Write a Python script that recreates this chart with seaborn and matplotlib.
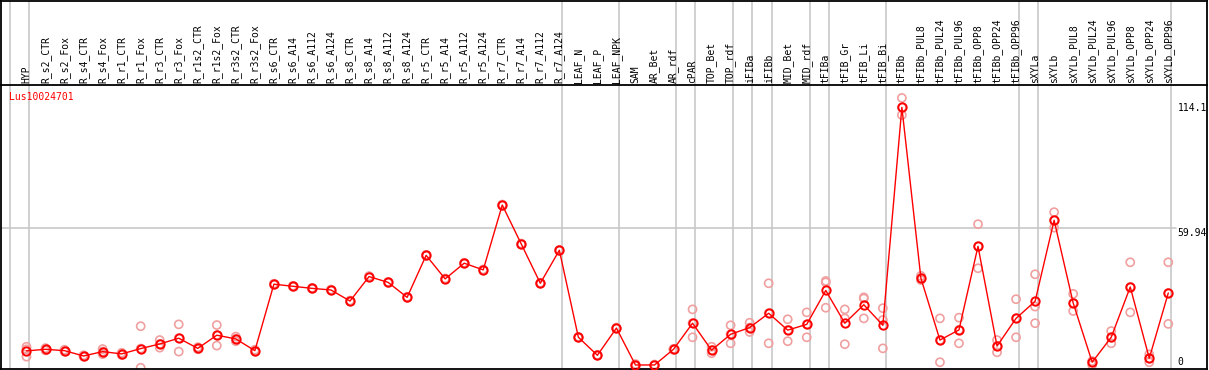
import numpy as np
import pandas as pd
import matplotlib
matplotlib.use("Agg")
import matplotlib.pyplot as plt
import matplotlib.transforms as mtransforms
import seaborn as sns

GENE = "Lus10024701"

SAMPLES = [
    "HYP",
    "R_s2_CTR", "R_s2_Fox", "R_s4_CTR", "R_s4_Fox", "R_r1_CTR", "R_r1_Fox",
    "R_r3_CTR", "R_r3_Fox", "R_r1s2_CTR", "R_r1s2_Fox", "R_r3s2_CTR", "R_r3s2_Fox",
    "R_s6_CTR", "R_s6_A14", "R_s6_A112", "R_s6_A124",
    "R_s8_CTR", "R_s8_A14", "R_s8_A112", "R_s8_A124",
    "R_r5_CTR", "R_r5_A14", "R_r5_A112", "R_r5_A124",
    "R_r7_CTR", "R_r7_A14", "R_r7_A112", "R_r7_A124",
    "LEAF_N", "LEAF_P", "LEAF_NPK",
    "SAM", "AR_Bet", "AR_rdf",
    "cPAR",
    "TOP_Bet", "TOP_rdf",
    "iFIBa",
    "iFIBb",
    "MID_Bet", "MID_rdf",
    "tFIBa",
    "tFIB_Gr", "tFIB_Li", "tFIB_Bi",
    "tFIBb", "tFIBb_PUL8", "tFIBb_PUL24", "tFIBb_PUL96",
    "tFIBb_OPP8", "tFIBb_OPP24", "tFIBb_OPP96",
    "sXYLa",
    "sXYLb", "sXYLb_PUL8", "sXYLb_PUL24", "sXYLb_PUL96",
    "sXYLb_OPP8", "sXYLb_OPP24", "sXYLb_OPP96",
]

# number of samples in each block between the grey separators
GROUP_SIZES = [1, 28, 3, 3, 1, 2, 1, 1, 2, 1, 3, 7, 1, 7]

MEANS = [
    6.8,
    7.5, 6.9, 4.6, 6.5, 5.5, 7.8, 9.8, 12.3, 7.9, 13.6, 12.0, 6.9,
    35.7, 34.8, 33.9, 33.2, 28.4, 39.0, 36.5, 30.0,
    48.2, 38.0, 44.8, 41.9, 70.0, 53.1, 36.1, 50.4,
    12.7, 4.9, 16.7,
    0.7, 0.7, 7.5,
    18.8,
    7.1, 14.0,
    16.9,
    23.1,
    15.8, 18.3,
    33.0,
    18.8, 26.8, 17.9,
    112.3, 38.3, 11.5, 15.9, 52.1, 8.9, 20.9,
    28.3,
    63.4, 27.6, 1.9, 12.7, 34.5, 3.6, 31.9,
]

REPLICATES = [
    [4.3, 7.5, 8.6],
    [7.0, 7.5, 8.0], [6.5, 6.9, 7.3], [4.3, 4.6, 4.9], [5.4, 6.5, 7.6],
    [5.0, 5.5, 6.0], [-0.5, 7.8, 17.5], [8.2, 9.8, 11.5], [6.5, 12.3, 18.3],
    [7.5, 8.0, 8.4], [9.1, 13.6, 18.0], [11.0, 12.0, 13.0], [6.5, 6.9, 7.3],
    [35.5, 35.7, 35.9], [34.6, 34.8, 35.0], [33.7, 33.9, 34.1], [33.0, 33.2, 33.4],
    [28.2, 28.4, 28.6], [38.8, 39.0, 39.2], [36.3, 36.5, 36.7], [29.8, 30.0, 30.2],
    [48.0, 48.2, 48.4], [37.8, 38.0, 38.2], [44.6, 44.8, 45.0], [41.7, 41.9, 42.1],
    [69.8, 70.0, 70.2], [52.9, 53.1, 53.3], [35.9, 36.1, 36.3], [50.2, 50.4, 50.6],
    [12.5, 12.7, 12.9], [4.7, 4.9, 5.1], [16.5, 16.7, 16.9],
    [0.3, 0.7, 1.1], [0.5, 0.7, 0.9], [7.3, 7.5, 7.7],
    [12.7, 18.8, 24.8],
    [5.8, 7.1, 8.6], [10.1, 14.0, 17.9],
    [15.0, 16.9, 19.0],
    [10.1, 23.1, 36.1],
    [11.0, 15.8, 20.5], [12.7, 18.3, 23.5],
    [25.5, 36.5, 37.1],
    [9.7, 20.9, 24.8], [20.9, 29.5, 30.0], [7.9, 20.2, 25.3],
    [109.0, 112.3, 116.4], [37.5, 38.3, 39.3], [1.9, 11.5, 20.9], [10.1, 15.9, 21.2],
    [42.6, 52.1, 61.7], [6.2, 8.9, 11.5], [12.7, 20.9, 29.2],
    [18.8, 26.0, 40.0],
    [60.2, 63.4, 66.9], [24.1, 27.6, 31.5], [0.7, 1.9, 2.4], [10.1, 12.7, 15.4],
    [23.5, 34.5, 45.2], [1.9, 3.6, 5.3], [18.5, 31.9, 45.2],
]

Y_TICKS = [0, 59.94, 114.1]
Y_TICK_LABELS = ["0", "59.94", "114.1"]

RED = "#ff0000"
PINK = "#f0a0a0"
GREY = "#c8c8c8"

sns.set_style("white")
plt.rcParams["font.family"] = ["DejaVu Sans Mono"]
plt.rcParams["font.size"] = 7

W, H = 1209, 370
fig = plt.figure(figsize=(W / 100, H / 100), dpi=100)


def px_box(x0, y0, x1, y1):
    return [x0 / W, 1 - y1 / H, (x1 - x0) / W, (y1 - y0) / H]


ax_head = fig.add_axes(px_box(1, 0.5, 1207, 85))
ax = fig.add_axes(px_box(1, 85, 1207, 369))

step = 19.03
xlim = ((1 - 26.5) / step, (1207 - 26.5) / step)

mean_df = pd.DataFrame({"pos": np.arange(len(SAMPLES)), "value": MEANS})
rep_df = pd.DataFrame(
    [(i, v) for i, reps in enumerate(REPLICATES) for v in reps],
    columns=["pos", "value"],
)

# separators between sample blocks
edges = np.concatenate([[0], np.cumsum(GROUP_SIZES)]) - 1 + 0.15
for e in edges:
    ax.axvline(e, color=GREY, lw=1.2, zorder=0)
    ax_head.axvline(e, color=GREY, lw=1.2, zorder=0)

ax.axhline(Y_TICKS[1], xmax=0.974, color=GREY, lw=1.2, zorder=0)

sns.scatterplot(data=rep_df, x="pos", y="value", ax=ax, marker="o", s=34,
                facecolor="none", edgecolor=PINK, linewidth=1.2, zorder=2)
sns.lineplot(data=mean_df, x="pos", y="value", ax=ax, color=RED, lw=1,
             marker="o", markersize=6, markerfacecolor="none",
             markeredgecolor=RED, markeredgewidth=1.4, zorder=3)

ax.set_xlim(*xlim)
ax.set_ylim(-1.04, 122.0)
ax.set_xticks([])
ax.set_yticks([])
ax.set_xlabel("")
ax.set_ylabel("")

trans = mtransforms.blended_transform_factory(ax.transAxes, ax.transData)
for val, lab in zip(Y_TICKS, Y_TICK_LABELS):
    ax.text(0.9755, val, lab, transform=trans, ha="left",
            va="bottom" if val == 0 else "top", color="black", fontsize=7)

ax.text(0.007, 0.975, GENE, transform=ax.transAxes, ha="left", va="top",
        color=RED, fontsize=7)

ax_head.set_xlim(*xlim)
ax_head.set_ylim(0, 1)
ax_head.set_xticks([])
ax_head.set_yticks([])
for i, name in enumerate(SAMPLES):
    ax_head.text(i, 0.025, name, rotation=90, ha="center", va="bottom",
                 fontsize=7, color="black")

for a in (ax, ax_head):
    for s in a.spines.values():
        s.set_color("black")
        s.set_linewidth(1.3)
ax_head.spines["bottom"].set_visible(False)

fig.savefig("out.png", dpi=100)
